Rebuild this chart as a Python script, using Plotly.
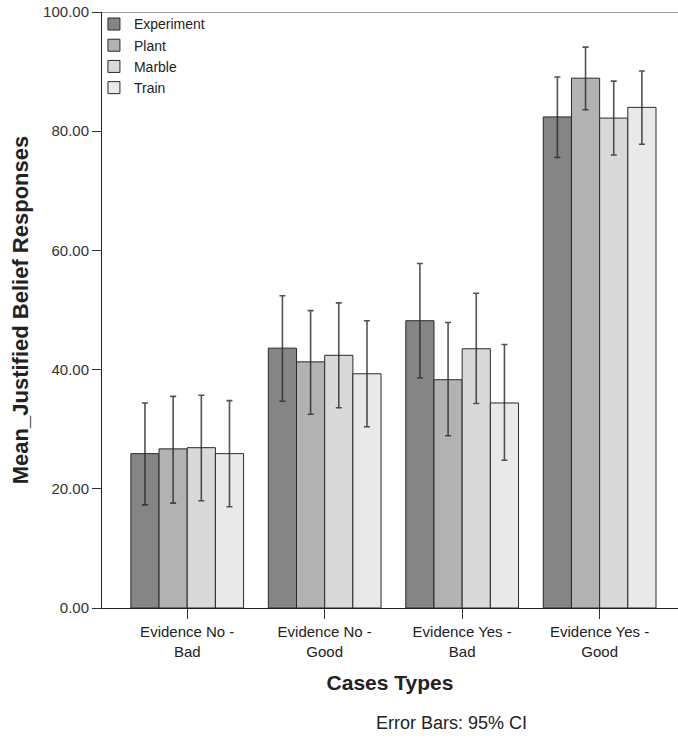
import plotly.graph_objects as go

categories = ["Evidence No -<br>Bad", "Evidence No -<br>Good", "Evidence Yes -<br>Bad", "Evidence Yes -<br>Good"]
series_names = ["Experiment", "Plant", "Marble", "Train"]
colors = ["#858585", "#b2b2b2", "#d9d9d9", "#e9e9e9"]

experiment_mean = [25.9, 43.6, 48.2, 82.4]
experiment_low = [17.3, 34.7, 38.6, 75.6]
experiment_high = [34.4, 52.4, 57.8, 89.1]

plant_mean = [26.7, 41.3, 38.3, 88.9]
plant_low = [17.6, 32.5, 28.9, 83.6]
plant_high = [35.5, 49.9, 47.9, 94.1]

marble_mean = [26.9, 42.4, 43.5, 82.2]
marble_low = [18.0, 33.6, 34.3, 76.0]
marble_high = [35.7, 51.2, 52.8, 88.4]

train_mean = [25.9, 39.3, 34.4, 84.0]
train_low = [17.0, 30.4, 24.8, 77.8]
train_high = [34.8, 48.2, 44.2, 90.1]

y_ticks = [0, 20, 40, 60, 80, 100]
y_tick_labels = ["0.00", "20.00", "40.00", "60.00", "80.00", "100.00"]

means = [experiment_mean, plant_mean, marble_mean, train_mean]
lows = [experiment_low, plant_low, marble_low, train_low]
highs = [experiment_high, plant_high, marble_high, train_high]

FONT = "Liberation Sans, Arial, sans-serif"

fig = go.Figure()
for name, col, m, lo, hi in zip(series_names, colors, means, lows, highs):
    fig.add_trace(go.Bar(
        name=name,
        x=list(range(len(categories))),
        y=m,
        marker=dict(color=col, line=dict(color="#2a2a2a", width=1)),
        error_y=dict(
            type="data",
            symmetric=False,
            array=[h - v for h, v in zip(hi, m)],
            arrayminus=[v - l for v, l in zip(m, lo)],
            color="rgba(40,40,40,0.8)",
            thickness=1.6,
            width=3,
        ),
    ))

fig.update_layout(
    width=678,
    height=738,
    margin=dict(l=102, r=0, t=12, b=130),
    paper_bgcolor="white",
    plot_bgcolor="white",
    barmode="group",
    bargap=0.18,
    bargroupgap=0,
    font=dict(family=FONT, size=15, color="#222"),
    showlegend=True,
    legend=dict(
        x=-0.014, y=1.006, xanchor="left", yanchor="top",
        bgcolor="rgba(0,0,0,0)",
        font=dict(size=14, color="#222"),
        itemwidth=30,
        tracegroupgap=0,
    ),
    xaxis=dict(
        range=[-0.62, 3.57],
        tickmode="array",
        tickvals=list(range(len(categories))),
        ticktext=categories,
        ticks="outside",
        ticklen=10,
        tickcolor="#333",
        showline=True,
        linecolor="#222",
        linewidth=1,
        showgrid=False,
        zeroline=False,
        tickfont=dict(size=15, color="#222"),
        title=dict(text="<b>Cases Types</b>", font=dict(size=21, color="#222"), standoff=16),
    ),
    yaxis=dict(
        range=[0, 100],
        tickmode="array",
        tickvals=y_ticks,
        ticktext=y_tick_labels,
        ticks="outside",
        ticklen=9,
        tickcolor="#333",
        showline=True,
        linecolor="#222",
        linewidth=1,
        showgrid=False,
        zeroline=False,
        tickfont=dict(size=15, color="#333"),
        title=dict(text="<b>Mean_Justified Belief Responses</b>", font=dict(size=22, color="#222"), standoff=8),
    ),
    shapes=[dict(type="line", xref="paper", yref="y", x0=0, x1=1, y0=100, y1=100,
                 line=dict(color="#999999", width=2))],
    annotations=[dict(text="Error Bars: 95% CI", xref="paper", yref="paper",
                      x=(451 - 102) / 576, y=-(723 - 608) / 596, xanchor="center", yanchor="middle",
                      showarrow=False, font=dict(size=18, color="#222"))],
)

fig.write_html("out.html", config={"displayModeBar": False},
               post_script="document.body.style.margin='0';")
